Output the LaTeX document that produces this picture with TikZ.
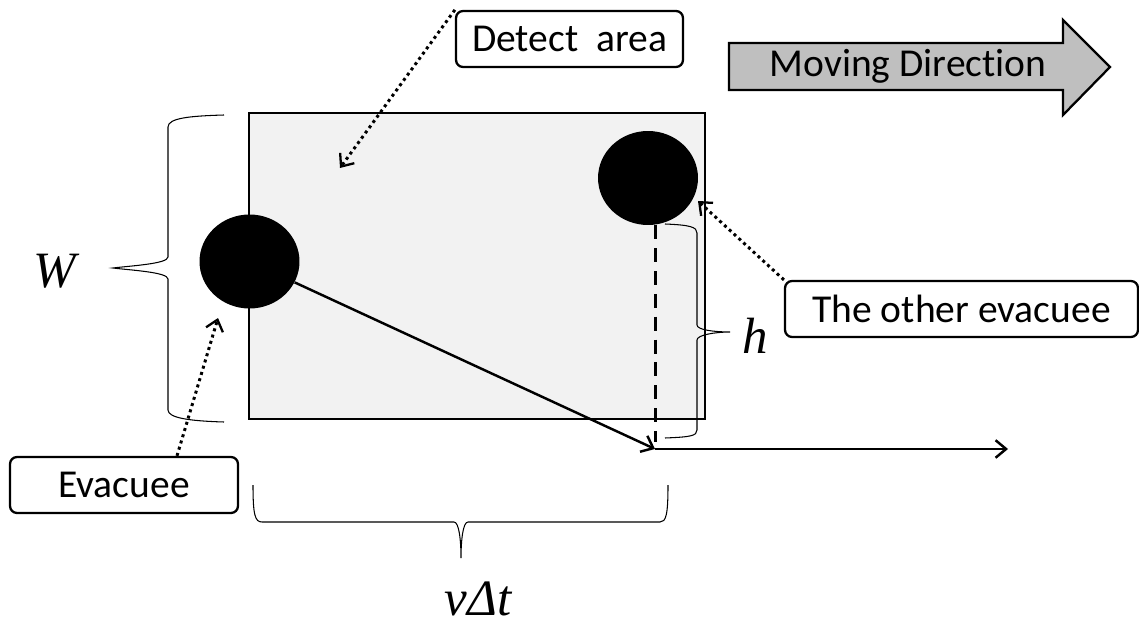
\documentclass[tikz,border=0pt]{standalone}
\usepackage{fontspec}
\setmainfont[Ligatures=NoCommon]{Carlito}
\newfontfamily\varfont{Liberation Serif}
\usetikzlibrary{arrows.meta,shapes.geometric}

\definecolor{areagray}{HTML}{F2F2F2}
\definecolor{arrowgray}{HTML}{BFBFBF}

\begin{document}
\begin{tikzpicture}[x=0.02cm,y=-0.02cm,
	labelbox/.style={draw,line width=1.3pt,rounded corners=4pt,minimum width=#1,minimum height=1.12cm,inner sep=0pt,font=\fontsize{22.5}{27}\selectfont},
	person/.style={ellipse,fill=black,minimum width=2cm,minimum height=1.88cm,inner sep=0pt},
	callout/.style={dotted,line width=1.7pt,-{Straight Barb[length=6pt,width=10pt,line width=1.3pt]}},
	move/.style={line width=1.4pt,-{Straight Barb[length=6pt,width=10pt,line width=1.4pt]}},
	curly/.style={line width=0.6pt},
	var/.style={anchor=base,font=\varfont\itshape\fontsize{29}{31}\selectfont}]
	\useasboundingbox (0,0) rectangle (1139,628);

	% detect area and the two evacuees
	\node[draw,fill=areagray,line width=1.4pt,minimum width=9.12cm,minimum height=6.12cm,inner sep=0pt] (area) at (477,266) {};
	\node[person] (evac) at (249.5,261.5) {};
	\node[person] (other) at (648,178) {};

	% moving direction
	\draw[fill=arrowgray,line width=1.3pt] (729,43) -- (1063,43) -- (1063,20) -- (1110,67) -- (1063,115) -- (1063,90) -- (729,90) -- cycle;
	\node[font=\fontsize{22.5}{27}\selectfont] (movetext) at (908,66) {Moving Direction};

	% labels
	\node[labelbox=4.54cm] (detect) at (569.5,39) {Detect~ area};
	\node[labelbox=4.56cm] (evbox) at (124,485) {Evacuee};
	\node[labelbox=7.06cm] (otherbox) at (961.5,309) {The other evacuee};

	\coordinate (detectpt) at (340,168);
	\coordinate (evpt) at (218,318);
	\coordinate (otherpt) at (698,201);
	\draw[callout] (detect.north west) -- (detectpt);
	\draw[callout] ([xshift=1.06cm]evbox.north) -- (evpt);
	\draw[callout] (otherbox.north west) -- (otherpt);

	% path of the evacuee
	\coordinate (tip) at (655,449);
	\coordinate (rightend) at (1008,449);
	\draw[move] (evac) -- (tip);
	\draw[move] (tip) -- (rightend);
	\draw[line width=1.7pt,dash pattern=on 8pt off 5pt] (other.south -| tip) -- ++(0,217);

	% braces
	\draw[curly] (224,115) .. controls (190,116) and (168,118) .. (168,127) -- (168,257)
		.. controls (168,264) and (128,266) .. (113,268)
		.. controls (128,270) and (168,272) .. (168,279) -- (168,410)
		.. controls (168,418) and (190,421) .. (224,422);
	\draw[curly] (665,224) .. controls (690,225) and (697,227) .. (697,233) -- (697,325)
		.. controls (697,330) and (715,332) .. (730,332)
		.. controls (715,332) and (697,335) .. (697,340) -- (697,430)
		.. controls (697,436) and (690,437) .. (665,438);
	\draw[curly] (253,485) .. controls (253,515) and (255,522) .. (262,522) -- (454,522)
		.. controls (459,522) and (461,540) .. (461,558)
		.. controls (461,540) and (463,522) .. (468,522) -- (660,522)
		.. controls (666,522) and (668,515) .. (668,485);

	\node[var] (wlab) at (55,287) {W};
	\node[var] (hlab) at (755,353) {h};
	\node[var] (vtlab) at (478,615) {vΔt};
\end{tikzpicture}
\end{document}
